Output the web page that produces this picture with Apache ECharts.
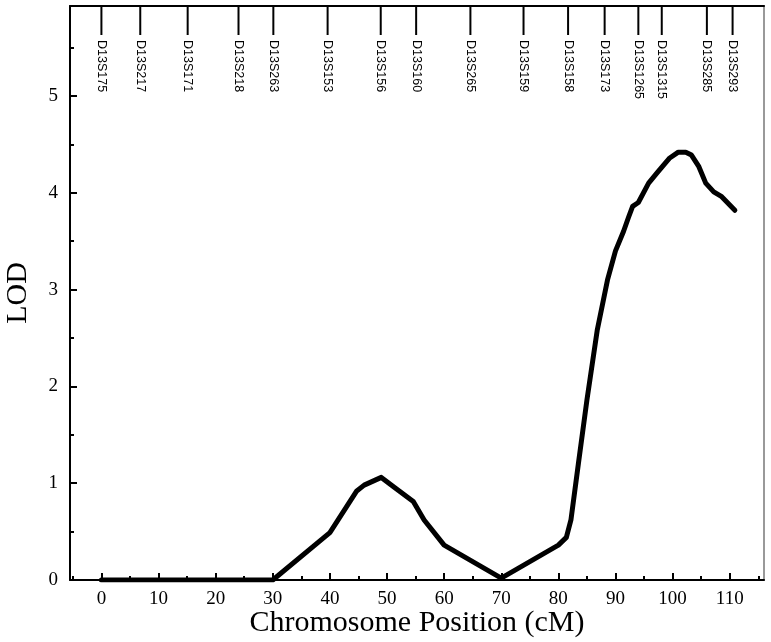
<!DOCTYPE html>
<html>
<head>
<meta charset="utf-8">
<script src="https://cdn.jsdelivr.net/npm/echarts@6/dist/echarts.min.js"></script>
<style>
  html, body { margin: 0; padding: 0; background: #fff; }
  #chart { width: 771px; height: 642px; }
</style>
</head>
<body>
<div id="chart"></div>
<script>
// LOD curve along the chromosome
const lodPos = [0, 30, 40, 44.7, 46, 49, 51.2, 54.6, 56.5, 60, 70, 80, 81.4, 82.2, 83.5, 85, 86.8, 88.6, 90, 91.4, 92.3, 93, 94, 95.8, 97.2, 97.9, 99.5, 101, 102.3, 103.3, 104.6, 105.8, 107.2, 108.6, 110.9]
const lodVal = [0, 0, 0.49, 0.92, 0.98, 1.06, 0.96, 0.81, 0.62, 0.36, 0.02, 0.36, 0.44, 0.62, 1.2, 1.86, 2.58, 3.1, 3.4, 3.6, 3.75, 3.86, 3.9, 4.1, 4.2, 4.25, 4.36, 4.42, 4.42, 4.39, 4.27, 4.1, 4.01, 3.96, 3.82]

// markers along the top
const markerNames = ['D13S175', 'D13S217', 'D13S171', 'D13S218', 'D13S263', 'D13S153', 'D13S156', 'D13S160', 'D13S265', 'D13S159', 'D13S158', 'D13S173', 'D13S1265', 'D13S1315', 'D13S285', 'D13S293']
const markerPos = [0, 6.8, 15.1, 24.0, 30.1, 39.6, 48.9, 55.1, 64.6, 73.9, 81.7, 88.1, 94.0, 98.1, 106.0, 110.5]

// ticks
const xMajor = [0, 10, 20, 30, 40, 50, 60, 70, 80, 90, 100, 110]
const xMinor = [-5, 5, 15, 25, 35, 45, 55, 65, 75, 85, 95, 105, 115]
const yMajor = [0, 1, 2, 3, 4, 5]
const yMinor = [0.5, 1.5, 2.5, 3.5, 4.5, 5.5]

const serif = 'Liberation Serif'
const xMin = -5.5
const xMax = 116
const yMax = 5.93

const tickStyle = { color: '#000', width: 2 }

// bare axis that only draws ticks at the given values
function tickAxis(pos, min, max, values, len) {
  return {
    type: 'value',
    position: pos,
    min: min,
    max: max,
    axisLine: { show: false, onZero: false },
    axisTick: { show: true, inside: true, length: len, lineStyle: tickStyle, customValues: values },
    axisLabel: { show: false },
    splitLine: { show: false }
  }
}

const myChart = echarts.init(document.getElementById('chart'))
myChart.setOption({
  animation: false,
  grid: { left: 70, right: 7, top: 6, bottom: 62, outerBoundsMode: 'none' },
  xAxis: [
    {
      type: 'value',
      position: 'bottom',
      min: xMin,
      max: xMax,
      name: 'Chromosome Position (cM)',
      nameLocation: 'middle',
      nameGap: 28,
      nameMoveOverlap: false,
      nameTextStyle: { fontFamily: serif, fontSize: 30, color: '#000' },
      axisLine: { onZero: false, lineStyle: { color: '#000', width: 2 } },
      axisTick: { show: false },
      axisLabel: { fontFamily: serif, fontSize: 19, color: '#000', margin: 10, customValues: xMajor },
      splitLine: { show: false }
    },
    tickAxis('bottom', xMin, xMax, xMajor, 7),
    tickAxis('bottom', xMin, xMax, xMinor, 4),
    {
      type: 'value',
      position: 'top',
      min: xMin,
      max: xMax,
      axisLine: { onZero: false, lineStyle: { color: '#000', width: 2 } },
      axisTick: { show: false },
      axisLabel: { show: false },
      splitLine: { show: false }
    }
  ],
  yAxis: [
    {
      type: 'value',
      position: 'left',
      min: 0,
      max: yMax,
      name: 'LOD',
      nameLocation: 'middle',
      nameGap: 37,
      nameMoveOverlap: false,
      nameTextStyle: { fontFamily: serif, fontSize: 30, color: '#000' },
      axisLine: { onZero: false, lineStyle: { color: '#000', width: 2 } },
      axisTick: { show: false },
      axisLabel: { fontFamily: serif, fontSize: 19, color: '#000', margin: 12, customValues: yMajor },
      splitLine: { show: false }
    },
    tickAxis('left', 0, yMax, yMajor, 7),
    tickAxis('left', 0, yMax, yMinor, 4),
    {
      type: 'value',
      position: 'right',
      min: 0,
      max: yMax,
      axisLine: { onZero: false, lineStyle: { color: '#999', width: 2 } },
      axisTick: { show: false },
      axisLabel: { show: false },
      splitLine: { show: false }
    }
  ],
  series: [
    {
      type: 'line',
      data: lodPos.map((p, i) => [p, lodVal[i]]),
      showSymbol: false,
      lineStyle: { color: '#000', width: 5, join: 'round', cap: 'round' },
      z: 5
    },
    {
      type: 'custom',
      data: markerPos.map((p, i) => [p, 0, markerNames[i]]),
      renderItem: function(params, api) {
        const pt = api.coord([api.value(0), 0])
        const top = params.coordSys.y
        return {
          type: 'group',
          children: [
            {
              type: 'line',
              shape: { x1: pt[0], y1: top, x2: pt[0], y2: top + 29 },
              style: { stroke: '#000', lineWidth: 2 }
            },
            {
              type: 'text',
              x: pt[0],
              y: top + 34,
              rotation: -Math.PI / 2,
              style: {
                text: markerNames[params.dataIndex],
                fill: '#000',
                font: '12.5px "Liberation Sans"',
                align: 'left',
                verticalAlign: 'middle'
              }
            }
          ]
        }
      }
    }
  ]
})
</script>
</body>
</html>
